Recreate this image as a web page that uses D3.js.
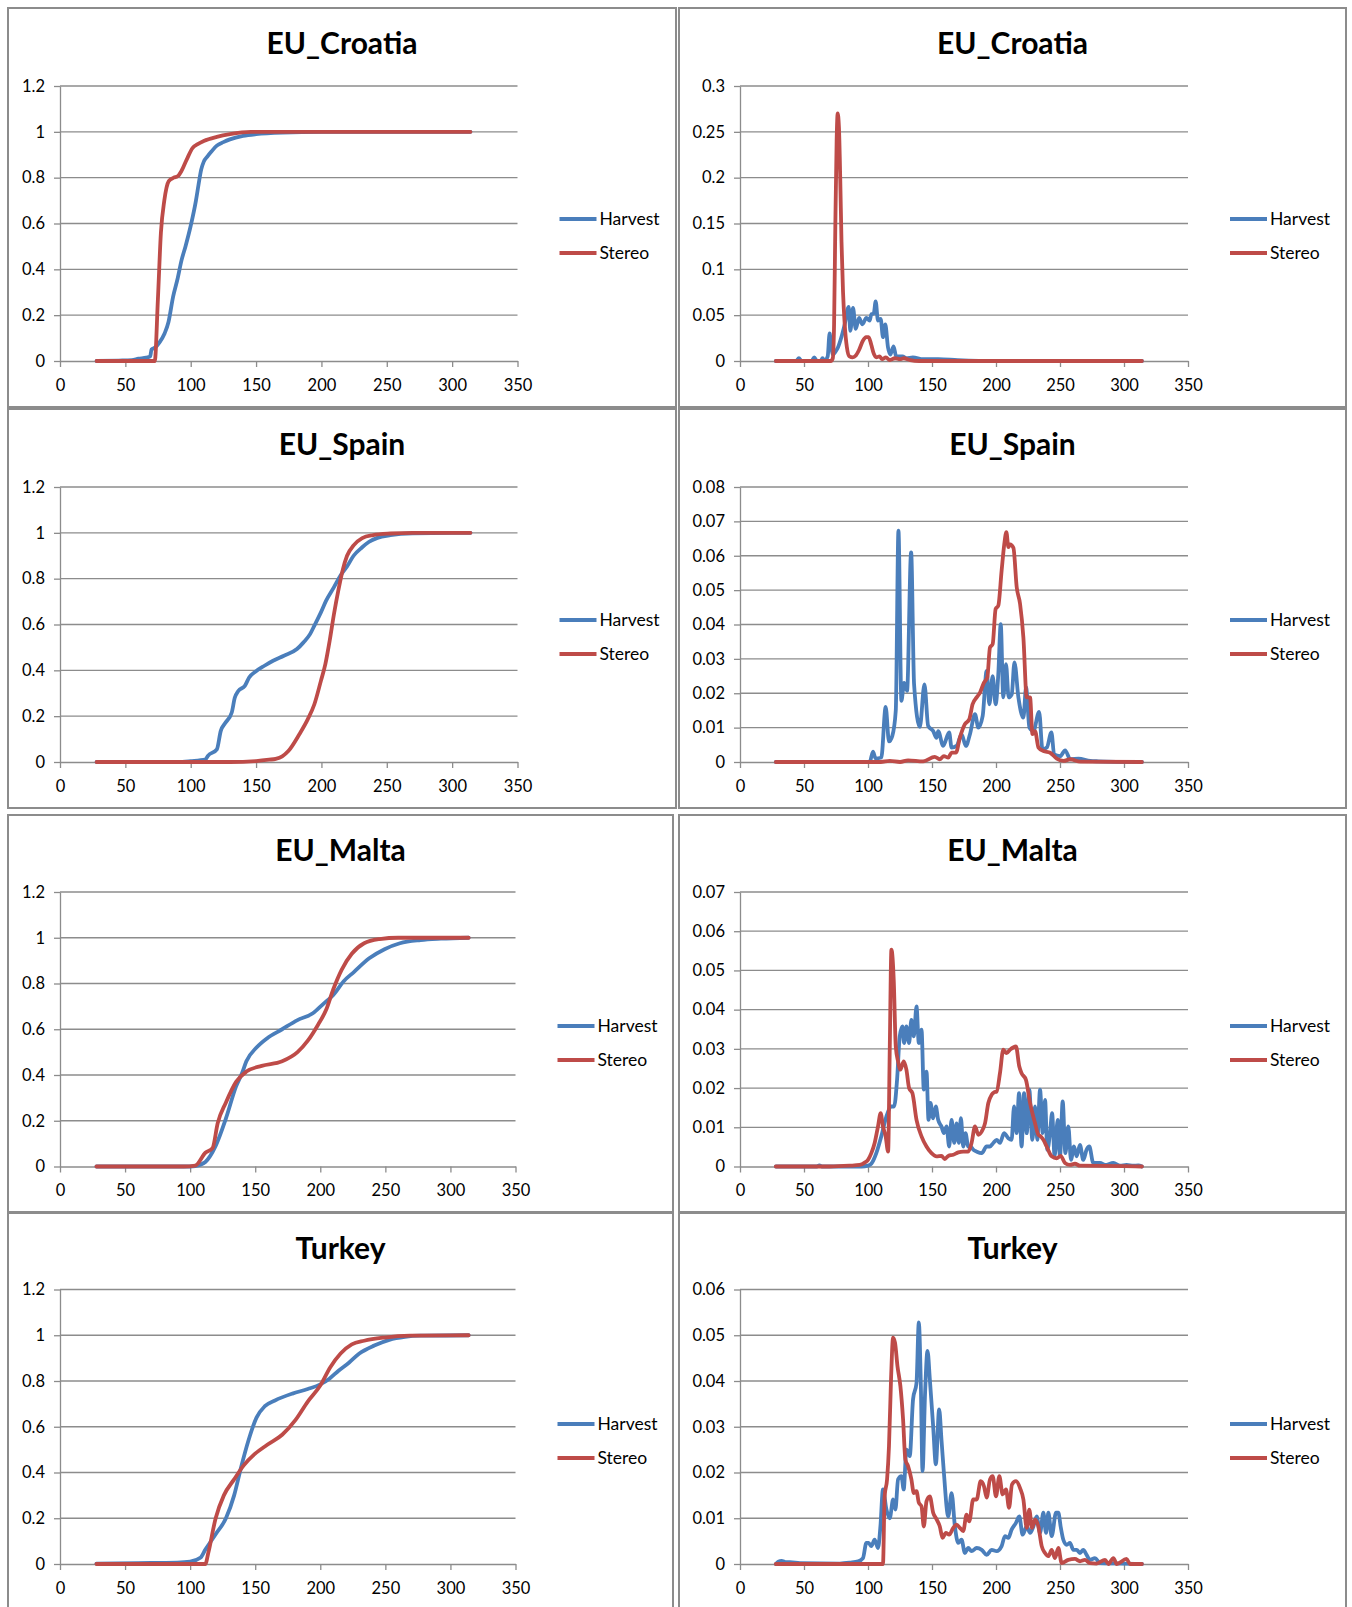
<!DOCTYPE html>
<html>
<head>
<meta charset="utf-8">
<script src="https://cdn.jsdelivr.net/npm/d3@7"></script>
<style>
  body { margin: 0; background: #fff; }
  text { font-family: Lato, "Open Sans", sans-serif; fill: #000; }
</style>
</head>
<body>
<svg id="chart"></svg>
<script>
// tick labels
const xTicks = [0, 50, 100, 150, 200, 250, 300, 350];
const cdfTicks = [0, 0.2, 0.4, 0.6, 0.8, 1, 1.2];
const croatiaPdfTicks = [0, 0.05, 0.1, 0.15, 0.2, 0.25, 0.3];
const spainPdfTicks = [0, 0.01, 0.02, 0.03, 0.04, 0.05, 0.06, 0.07, 0.08];
const maltaPdfTicks = [0, 0.01, 0.02, 0.03, 0.04, 0.05, 0.06, 0.07];
const turkeyPdfTicks = [0, 0.01, 0.02, 0.03, 0.04, 0.05, 0.06];

const seriesNames = ["Harvest", "Stereo"];

// EU_Croatia
const croatiaHarvestCdf = [[28,0],[45,0.002],[55,0.004],[60,0.01],[66,0.015],[69,0.02],[70,0.05],[73,0.06],[76,0.08],[80,0.12],[83,0.17],[86.5,0.28],[90,0.36],[93,0.44],[96,0.5],[100,0.59],[104,0.7],[106,0.77],[108,0.835],[110,0.87],[113,0.894],[116,0.915],[120,0.94],[125,0.955],[130,0.967],[140,0.982],[150,0.99],[170,0.997],[200,1],[314,1]];
const croatiaStereoCdf = [[28,0],[72.5,0],[74.9,0.27],[77.2,0.56],[79.8,0.7],[83.2,0.785],[87,0.8],[90,0.806],[93,0.83],[97,0.88],[101.5,0.93],[105,0.945],[110,0.96],[120,0.978],[130,0.99],[146,1],[314,1]];
const croatiaHarvestPdf = [[28,0],[44,0],[46,0.003],[48,0],[56,0],[58,0.004],[60,0],[63,0],[64.5,0.003],[66,0],[68.5,0.005],[70,0.03],[71,0.02],[72.6,0.007],[74.5,0.01],[76.6,0.015],[79,0.025],[81.8,0.04],[84.9,0.059],[86.2,0.033],[88.3,0.058],[90.4,0.035],[93,0.047],[95.6,0.04],[98.7,0.047],[101.3,0.044],[102.6,0.051],[104.5,0.052],[106,0.065],[107.8,0.044],[109.9,0.046],[111.7,0.026],[113.5,0.04],[115.6,0.015],[117.4,0.007],[120,0.016],[122,0.005],[127,0.005],[130,0.003],[135,0.004],[143,0.002],[155,0.002],[170,0.001],[200,0],[314,0]];
const croatiaStereoPdf = [[28,0],[71,0],[72.5,0.003],[73.5,0.04],[74.5,0.15],[75.5,0.24],[76.3,0.27],[77.3,0.255],[78.3,0.2],[79.3,0.13],[80.5,0.075],[81.8,0.04],[83.5,0.015],[85.5,0.005],[88,0.004],[90.5,0.006],[93,0.012],[96,0.022],[98.5,0.026],[100.5,0.026],[102.5,0.018],[104.5,0.008],[106.5,0.004],[109,0.005],[111,0.002],[114,0.004],[117,0.001],[121,0.003],[125,0.002],[128,0.003],[133,0.001],[140,0],[314,0]];

// EU_Spain
const spainHarvestCdf = [[28,0],[90,0],[100,0.004],[111.4,0.012],[113,0.026],[120,0.055],[123,0.136],[126.4,0.17],[131.4,0.216],[133.7,0.28],[136.4,0.31],[141.4,0.332],[144.7,0.369],[149.7,0.395],[156.4,0.42],[163,0.442],[171.3,0.464],[181.3,0.493],[186.3,0.522],[191.3,0.558],[194.6,0.595],[199.6,0.653],[203.6,0.704],[209.6,0.763],[214.6,0.814],[219.6,0.853],[224.6,0.9],[231.2,0.937],[236.2,0.96],[242.8,0.978],[252.8,0.99],[269.5,0.998],[300,1],[314,1]];
const spainStereoCdf = [[28,0],[130,0],[150,0.004],[160,0.01],[165,0.014],[170,0.025],[174.7,0.048],[183,0.12],[189.6,0.187],[194.6,0.252],[199.6,0.354],[203,0.427],[206.3,0.529],[209.6,0.646],[212.9,0.748],[216.2,0.836],[219.6,0.9],[224.6,0.945],[231.2,0.977],[239.5,0.99],[252.8,0.997],[270,1],[314,1]];
const spainHarvestPdf = [[28,0],[95,0],[101.3,0],[103.9,0.003],[106,0.001],[110.4,0.0013],[113.8,0.016],[116.4,0.006],[119,0.0076],[121.7,0.015],[123.8,0.0673],[126.1,0.0178],[128.2,0.023],[130.5,0.0207],[133.7,0.061],[136,0.0226],[140.5,0.0102],[144.1,0.0226],[147,0.0105],[150.9,0.009],[153.5,0.007],[154.8,0.009],[158.7,0.0047],[163.4,0.0086],[165.3,0.0042],[169.2,0.0047],[173.1,0.008],[176.5,0.0047],[179.6,0.008],[183.6,0.0139],[186.2,0.01],[189.6,0.0134],[192.7,0.0265],[194.8,0.0168],[197.4,0.025],[199.7,0.0168],[201.8,0.0256],[203.7,0.0401],[205.7,0.0188],[207.8,0.0285],[209.9,0.0188],[212.3,0.0197],[214.4,0.029],[217.5,0.0188],[221.4,0.0129],[223.5,0.0217],[226.1,0.01],[229.2,0.009],[233.7,0.0146],[236.3,0.0037],[239.7,0.0042],[243.3,0.0086],[245.4,0.0022],[250.1,0.0017],[254,0.0034],[258,0.0008],[264.5,0.001],[273.6,0.0003],[280,0.0002],[314,0]];
const spainStereoPdf = [[28,0],[110,0],[117,0.0003],[125,0],[131.3,0.0005],[143,0.0002],[152.2,0.0015],[156,0.0008],[159.3,0.0017],[162.7,0.0013],[165.3,0.0027],[168.7,0.0027],[171.8,0.0071],[175.7,0.011],[179.1,0.0124],[181.7,0.0168],[184.9,0.0188],[187.5,0.0202],[190.6,0.0231],[193.2,0.0246],[195.3,0.0333],[197.4,0.0343],[199.7,0.0445],[201.8,0.0455],[204.4,0.0557],[206.5,0.0635],[208.1,0.0669],[209.7,0.0625],[211,0.0633],[213.6,0.0623],[216.2,0.0508],[218.8,0.046],[221.4,0.0362],[224,0.0188],[226.6,0.0188],[228.5,0.0081],[230.5,0.009],[233.2,0.0042],[237.1,0.0032],[242.3,0.0027],[247.5,0.001],[252.7,0.0003],[258,0.0008],[265.8,0.0001],[314,0]];

// EU_Malta
const maltaHarvestCdf = [[28,0],[100,0],[103.9,0.002],[111.7,0.02],[119.6,0.09],[127.5,0.21],[135.3,0.35],[140,0.41],[143.2,0.46],[151,0.52],[159,0.56],[170.7,0.6],[182.5,0.64],[194.3,0.67],[202.2,0.71],[210,0.75],[218,0.81],[225.8,0.85],[237.6,0.91],[249.4,0.95],[261.2,0.976],[277,0.99],[292.7,0.996],[314,1]];
const maltaStereoCdf = [[28,0],[95,0],[103.9,0.004],[111.7,0.06],[117.2,0.08],[121.2,0.19],[127.5,0.28],[135.3,0.37],[143.2,0.415],[155,0.44],[170.7,0.46],[182.5,0.5],[190.4,0.55],[198.3,0.62],[204.5,0.685],[210,0.775],[216.4,0.86],[224.2,0.93],[233.7,0.976],[245.5,0.994],[260,1],[314,1]];
const maltaHarvestPdf = [[28,0],[60,0],[62,0.0003],[64,0],[95,0],[100,0.0002],[102.6,0.0007],[106.5,0.0034],[110.4,0.0077],[114.4,0.0128],[118.3,0.0153],[120.4,0.0153],[122.7,0.0221],[124.8,0.0332],[126.9,0.0357],[128.2,0.0315],[130,0.0357],[132.1,0.0315],[133.9,0.0374],[135.8,0.0332],[137.9,0.0408],[139.7,0.0315],[141.8,0.0349],[143.6,0.0196],[145.7,0.0242],[147.3,0.0119],[148.8,0.0162],[150.9,0.0123],[153,0.0153],[154.8,0.0119],[157.4,0.0102],[159.3,0.0085],[161.4,0.0102],[163.4,0.0051],[165.3,0.0119],[167.4,0.006],[169.2,0.011],[171,0.006],[172.6,0.0123],[174.4,0.0051],[176.2,0.0085],[178.3,0.0051],[180.2,0.0051],[182.2,0.0043],[184.9,0.0038],[188.8,0.0034],[192.7,0.0051],[195.3,0.0051],[197.9,0.006],[200.5,0.0068],[203.1,0.006],[206.3,0.0085],[209.6,0.0072],[212.2,0.0068],[214.1,0.0153],[216.1,0.0085],[218,0.0187],[220,0.0051],[221.9,0.0187],[224,0.0085],[226,0.0196],[228.4,0.0068],[230.5,0.0153],[232.3,0.0068],[234.4,0.0196],[236.5,0.0085],[238.3,0.017],[240.1,0.0043],[242.2,0.0085],[243.8,0.0136],[245.8,0.0026],[248.2,0.0119],[250,0.0026],[252.1,0.0166],[254.2,0.0034],[256.5,0.0102],[258.6,0.0017],[260.9,0.0051],[263,0.0026],[265.6,0.0055],[268.2,0.0017],[270.8,0.0043],[272.9,0.0051],[276,0.0009],[281.3,0.0009],[285.2,0.0004],[291.7,0.0009],[296.9,0.0002],[302,0.0004],[307.3,0.0002],[311.2,0.0003],[314,0]];
const maltaStereoPdf = [[28,0],[70,0],[85.6,0.0002],[93.5,0.0004],[97.4,0.001],[100,0.0017],[102.6,0.0034],[105.2,0.006],[107.8,0.0102],[109.9,0.0136],[111.7,0.0102],[113.8,0.0077],[115.7,0.0038],[117,0.03],[118.3,0.0553],[120.1,0.0476],[121.7,0.0306],[123.5,0.0268],[125.3,0.0247],[127.9,0.0268],[130,0.0247],[132.1,0.02],[134.7,0.0187],[137.9,0.0119],[141.8,0.0077],[145.7,0.0051],[149.6,0.0034],[153.5,0.0026],[157.4,0.0027],[160,0.0019],[162.7,0.0027],[166.6,0.003],[170.5,0.0036],[174.4,0.0038],[178.3,0.0038],[180.9,0.006],[183.6,0.0102],[186.2,0.0081],[188.8,0.0089],[191.4,0.011],[194,0.0162],[196.6,0.0183],[198.5,0.0189],[200.5,0.0191],[203.1,0.0238],[205.7,0.0298],[208.3,0.0289],[211,0.0298],[215.6,0.0306],[218.2,0.0255],[220,0.0238],[223.4,0.0221],[226.6,0.0162],[230.5,0.011],[233.1,0.0081],[234.9,0.0077],[237,0.0068],[239.6,0.0051],[243.5,0.0026],[247.4,0.0021],[250.5,0.0027],[253.9,0.0009],[257.8,0.0004],[261.7,0.0007],[265.6,0.0002],[300,0.0001],[314,0]];

// Turkey
const turkeyHarvestCdf = [[28,0.002],[60,0.004],[90,0.006],[100,0.01],[107.8,0.027],[111.7,0.063],[119.6,0.13],[127.5,0.2],[133.8,0.3],[139,0.42],[144.8,0.54],[151,0.64],[157.4,0.69],[165.2,0.715],[178.6,0.745],[190.4,0.765],[200,0.785],[207,0.81],[214,0.845],[222,0.88],[230,0.92],[241.5,0.955],[253,0.98],[265,0.993],[277,0.998],[314,1]];
const turkeyStereoCdf = [[28,0],[111.7,0],[114,0.05],[119.6,0.2],[125.9,0.3],[133.8,0.37],[141,0.43],[149.5,0.48],[159,0.52],[170.7,0.565],[181,0.63],[190.4,0.71],[200,0.78],[207.7,0.86],[215.6,0.92],[224.2,0.96],[233.7,0.976],[249.4,0.99],[269,0.998],[314,1]];
const turkeyHarvestPdf = [[28,0],[30,0.0005],[32.5,0.0007],[36,0.0004],[39,0.0004],[46.8,0.0002],[78,0.0001],[85.9,0.0003],[92.4,0.0006],[96.1,0.0013],[98.7,0.0046],[100.5,0.0046],[102.6,0.0039],[105.2,0.0053],[107.8,0.0035],[109.7,0.0082],[111.7,0.0163],[114.4,0.0119],[117,0.01],[119.6,0.0141],[121.4,0.0119],[123.5,0.0185],[126.1,0.0192],[127.9,0.0163],[130,0.025],[132.6,0.0236],[135.2,0.036],[137.9,0.0396],[139.7,0.0528],[141.3,0.0389],[142.6,0.0203],[144.6,0.0374],[146.5,0.0466],[148.3,0.0404],[150.9,0.0301],[153,0.0218],[155.6,0.0338],[157.4,0.0272],[159.3,0.0199],[162.7,0.0104],[165.3,0.0155],[167.9,0.0082],[170.5,0.0046],[173.1,0.0053],[175.7,0.0024],[178.3,0.0035],[180.9,0.0028],[184.9,0.0035],[188.8,0.0031],[192.7,0.002],[196.6,0.0031],[200.5,0.0028],[204.4,0.0039],[207,0.0061],[209.6,0.0057],[212.2,0.0075],[215.6,0.009],[218.2,0.0104],[220.8,0.0064],[224,0.0082],[226.6,0.0068],[229.2,0.0082],[231.8,0.0104],[234.4,0.0068],[237,0.0112],[239.1,0.0068],[240.9,0.0112],[243.5,0.0061],[246.9,0.0112],[248.7,0.0112],[250.5,0.0082],[252.6,0.0053],[255.2,0.0042],[257.8,0.0046],[260.4,0.0031],[263,0.0031],[265.6,0.0024],[268.2,0.0031],[270.8,0.002],[273.4,0.0009],[277.3,0.0013],[281.3,0.0002],[300,0.0001],[314,0]];
const turkeyStereoPdf = [[28,0],[111.7,0],[113,0.0148],[114.9,0.0185],[116.4,0.0258],[118,0.0404],[119.6,0.0495],[121.1,0.0484],[123,0.0433],[125.3,0.0389],[127.4,0.0316],[129.2,0.0228],[131.3,0.0214],[133.9,0.0185],[135.8,0.0155],[137.9,0.0159],[139.7,0.0134],[141.8,0.0126],[143.6,0.0082],[145.7,0.0137],[148.3,0.0148],[150.9,0.0112],[153.5,0.0098],[156.1,0.0082],[158.2,0.0057],[160.8,0.0068],[163.4,0.0064],[166.6,0.0079],[169.2,0.0086],[171.8,0.0079],[174.4,0.0072],[177,0.0108],[179.1,0.0093],[182.2,0.0141],[184.9,0.0141],[188,0.0181],[190.6,0.017],[192.7,0.0145],[195.3,0.0185],[197.4,0.0192],[200,0.0148],[202.6,0.0192],[205.2,0.0152],[207.8,0.0163],[210.2,0.0123],[212.5,0.0174],[215.6,0.0181],[218.8,0.0166],[221.4,0.0141],[224,0.0079],[226,0.0119],[228.1,0.0079],[230.5,0.0097],[233.1,0.0082],[235.7,0.0039],[238.3,0.0024],[240.9,0.0017],[243.5,0.0031],[246.1,0.0013],[248.7,0.0035],[251.3,0.0002],[256.5,0.0009],[261.7,0.0011],[265.6,0.0006],[269.5,0.0009],[273.4,0.0002],[278.6,0.0001],[285.2,0.0009],[287.8,0],[291.7,0.0013],[294.3,0],[302,0.0011],[304.7,0],[314,0]];

const colors = ["#4a7ebb", "#be4b48"];

// layout: box = panel frame, plot = [left, top, right, bottom]
const panels = [
  { title: "EU_Croatia", box: [8, 8, 676, 407],    plot: [60, 86, 517.5, 361],      ticks: cdfTicks,        series: [croatiaHarvestCdf, croatiaStereoCdf] },
  { title: "EU_Croatia", box: [679, 8, 1346, 407], plot: [740, 86, 1188, 361],      ticks: croatiaPdfTicks, series: [croatiaHarvestPdf, croatiaStereoPdf] },
  { title: "EU_Spain",   box: [8, 409, 676, 808],  plot: [60, 487, 517.5, 762],     ticks: cdfTicks,        series: [spainHarvestCdf, spainStereoCdf] },
  { title: "EU_Spain",   box: [679, 409, 1346, 808], plot: [740, 487, 1188, 762],   ticks: spainPdfTicks,   series: [spainHarvestPdf, spainStereoPdf] },
  { title: "EU_Malta",   box: [8, 815, 673, 1212], plot: [60, 892, 515.5, 1166.5],  ticks: cdfTicks,        series: [maltaHarvestCdf, maltaStereoCdf] },
  { title: "EU_Malta",   box: [679, 815, 1346, 1212], plot: [740, 892, 1188, 1166.5], ticks: maltaPdfTicks, series: [maltaHarvestPdf, maltaStereoPdf] },
  { title: "Turkey",     box: [8, 1213, 673, 1612], plot: [60, 1289.5, 515.5, 1564], ticks: cdfTicks,       series: [turkeyHarvestCdf, turkeyStereoCdf] },
  { title: "Turkey",     box: [679, 1213, 1346, 1612], plot: [740, 1289.5, 1188, 1564], ticks: turkeyPdfTicks, series: [turkeyHarvestPdf, turkeyStereoPdf] }
];

const svg = d3.select("#chart")
    .attr("width", 1352)
    .attr("height", 1607);

const gridColor = "#8c8c8c";

function drawPanel(p) {
    const g = svg.append("g");
    const [left, top, right, bottom] = p.plot;

    g.append("rect")
        .attr("x", p.box[0]).attr("y", p.box[1])
        .attr("width", p.box[2] - p.box[0]).attr("height", p.box[3] - p.box[1])
        .attr("fill", "#fff")
        .attr("stroke", gridColor)
        .attr("stroke-width", 2);

    g.append("text")
        .attr("x", (p.box[0] + p.box[2]) / 2)
        .attr("y", p.box[1] + 46)
        .attr("text-anchor", "middle")
        .attr("font-size", 30)
        .attr("font-weight", "bold")
        .text(p.title);

    const x = d3.scaleLinear().domain([0, 350]).range([left, right]);
    const y = d3.scaleLinear().domain([0, d3.max(p.ticks)]).range([bottom, top]);

    // horizontal gridlines
    g.selectAll(".grid")
        .data(p.ticks.filter(t => t > 0))
        .enter().append("line")
        .attr("class", "grid")
        .attr("x1", left).attr("x2", right)
        .attr("y1", d => y(d)).attr("y2", d => y(d))
        .attr("stroke", gridColor)
        .attr("stroke-width", 1.3);

    const xAxis = g.append("g")
        .attr("transform", "translate(0," + bottom + ")")
        .call(d3.axisBottom(x).tickValues(xTicks).tickSize(6).tickSizeOuter(0).tickPadding(12).tickFormat(d => String(d)));

    const yAxis = g.append("g")
        .attr("transform", "translate(" + left + ",0)")
        .call(d3.axisLeft(y).tickValues(p.ticks).tickSize(6).tickSizeOuter(0).tickPadding(9).tickFormat(d => String(d)));

    [xAxis, yAxis].forEach(a => {
        a.attr("font-size", 16.5).attr("font-family", "Lato, 'Open Sans', sans-serif");
        a.selectAll("path, line").attr("stroke", gridColor).attr("stroke-width", 1.3);
        a.selectAll("text").attr("fill", "#000");
    });

    const line = d3.line()
        .x(d => x(d[0]))
        .y(d => y(d[1]))
        .curve(d3.curveMonotoneX);

    p.series.forEach((s, i) => {
        g.append("path")
            .datum(s)
            .attr("d", line)
            .attr("fill", "none")
            .attr("stroke", colors[i])
            .attr("stroke-width", 3.8)
            .attr("stroke-linejoin", "round")
            .attr("stroke-linecap", "round");
    });

    // legend
    seriesNames.forEach((name, i) => {
        const ly = p.box[1] + 211 + i * 34;
        g.append("line")
            .attr("x1", right + 42).attr("x2", right + 79)
            .attr("y1", ly).attr("y2", ly)
            .attr("stroke", colors[i])
            .attr("stroke-width", 3.8);
        g.append("text")
            .attr("x", right + 82)
            .attr("y", ly)
            .attr("dy", "0.35em")
            .attr("font-size", 17.5)
            .text(name);
    });
}

panels.forEach(drawPanel);
</script>
</body>
</html>
